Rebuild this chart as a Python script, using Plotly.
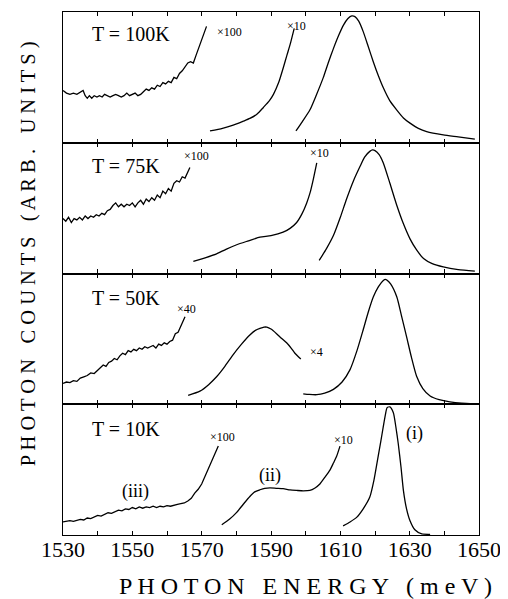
import plotly.graph_objects as go
from plotly.subplots import make_subplots

FONT = "Liberation Serif, Times New Roman, serif"

# ---------------- data (photon energy in meV, counts in arbitrary units per panel) ----------
temps = ["T = 100K", "T = 75K", "T = 50K", "T = 10K"]

# T = 100K
e100_a = [1530, 1531, 1532, 1533, 1534, 1535, 1535.8, 1536.4, 1537, 1537.6, 1538.3, 1539,
          1539.8, 1540.5, 1541.3, 1542, 1542.8, 1543.6, 1544.4, 1545.2, 1546, 1546.8, 1547.6, 1548.4,
          1549.2, 1550, 1550.8, 1551.6, 1552.4, 1553.2, 1554, 1554.8, 1555.6, 1556.4, 1557.2, 1558,
          1558.8, 1559.6, 1560.4, 1561.2, 1562, 1562.8, 1563.6, 1564.4, 1565.2, 1566, 1566.8, 1567.6,
          1568.4, 1569.2, 1570, 1570.7, 1571.4]
c100_a = [0.40, 0.38, 0.37, 0.38, 0.37, 0.39, 0.40, 0.36, 0.34, 0.36, 0.34, 0.36,
          0.35, 0.36, 0.35, 0.37, 0.36, 0.35, 0.36, 0.37, 0.36, 0.35, 0.36, 0.38,
          0.36, 0.37, 0.38, 0.36, 0.37, 0.39, 0.41, 0.40, 0.42, 0.41, 0.44, 0.43,
          0.46, 0.45, 0.47, 0.46, 0.50, 0.49, 0.53, 0.55, 0.58, 0.61, 0.62, 0.61,
          0.67, 0.73, 0.79, 0.84, 0.89]
e100_b = [1572.4, 1576, 1579.1, 1582, 1583.9, 1586, 1587.8, 1589.5, 1590.7, 1592.2, 1593.5, 1594.6, 1595.5, 1596.7]
c100_b = [0.09, 0.11, 0.135, 0.165, 0.186, 0.22, 0.27, 0.32, 0.37, 0.46, 0.57, 0.67, 0.75, 0.875]
e100_c = [1597.2, 1599, 1601.2, 1603, 1605.1, 1606.5, 1608, 1609.5, 1610.9, 1612.2, 1613.3, 1614.2,
          1615.3, 1616.6, 1618, 1619.5, 1621, 1622.4, 1624.3, 1626.3, 1628.2, 1630.1, 1632.5, 1634.9,
          1639.7, 1644, 1648.8]
c100_c = [0.09, 0.16, 0.25, 0.36, 0.50, 0.61, 0.72, 0.82, 0.90, 0.95, 0.97, 0.965,
          0.93, 0.85, 0.74, 0.62, 0.51, 0.42, 0.32, 0.25, 0.19, 0.15, 0.11, 0.085,
          0.06, 0.045, 0.028]

# T = 75K
e75_a = [1530, 1530.8, 1531.6, 1532.4, 1533.2, 1534, 1534.8, 1535.6, 1536.4, 1537.2, 1538, 1538.8,
         1539.6, 1540.4, 1541.2, 1542, 1542.8, 1543.6, 1544.4, 1545.2, 1546, 1546.8, 1547.6, 1548.4,
         1549.2, 1550, 1550.8, 1551.6, 1552.4, 1553.2, 1554, 1554.8, 1555.6, 1556.4, 1557.2, 1558,
         1558.8, 1559.6, 1560.4, 1561.2, 1562, 1562.8, 1563.6, 1564.4, 1565.2, 1566, 1566.6]
c75_a = [0.42, 0.40, 0.43, 0.39, 0.42, 0.41, 0.43, 0.41, 0.44, 0.42, 0.44, 0.43,
         0.45, 0.44, 0.46, 0.45, 0.48, 0.49, 0.52, 0.54, 0.51, 0.53, 0.51, 0.53,
         0.52, 0.54, 0.51, 0.54, 0.56, 0.53, 0.57, 0.55, 0.58, 0.56, 0.60, 0.58,
         0.63, 0.61, 0.65, 0.63, 0.69, 0.71, 0.70, 0.74, 0.73, 0.78, 0.81]
e75_b = [1567.6, 1571, 1574.3, 1577, 1580.1, 1583.5, 1586.8, 1590, 1593.5, 1595.5, 1597.4, 1599,
         1600.3, 1601.3, 1602.2, 1603.2]
c75_b = [0.093, 0.12, 0.15, 0.185, 0.22, 0.25, 0.278, 0.29, 0.316, 0.345, 0.39, 0.46,
         0.54, 0.62, 0.72, 0.846]
e75_c = [1603.9, 1606, 1608, 1610, 1611.8, 1613.8, 1615.7, 1617, 1618.5, 1619.3, 1620, 1621.2,
         1622.4, 1624.3, 1626.3, 1628.2, 1630.1, 1632, 1634, 1636.5, 1639.7, 1644, 1648.8]
c75_c = [0.10, 0.19, 0.29, 0.43, 0.57, 0.71, 0.82, 0.89, 0.934, 0.945, 0.94, 0.91,
         0.846, 0.69, 0.52, 0.38, 0.265, 0.18, 0.114, 0.075, 0.05, 0.03, 0.018]

# T = 50K
e50_a = [1530, 1531, 1532, 1533, 1534, 1535, 1536, 1537, 1538, 1539, 1540, 1540.8,
         1541.6, 1542.4, 1543.2, 1544, 1544.8, 1545.6, 1546.4, 1547.2, 1548, 1548.8, 1549.6, 1550.4,
         1551.2, 1552, 1552.8, 1553.6, 1554.4, 1555.2, 1556, 1556.8, 1557.6, 1558.4, 1559.2, 1560,
         1560.8, 1561.6, 1562.4, 1563.2, 1564, 1564.6, 1565.2]
c50_a = [0.16, 0.17, 0.165, 0.18, 0.175, 0.20, 0.21, 0.22, 0.24, 0.235, 0.26, 0.28,
         0.30, 0.29, 0.32, 0.33, 0.35, 0.34, 0.37, 0.39, 0.38, 0.41, 0.40, 0.42,
         0.41, 0.43, 0.42, 0.44, 0.43, 0.44, 0.45, 0.43, 0.46, 0.45, 0.47, 0.46,
         0.48, 0.49, 0.54, 0.55, 0.60, 0.64, 0.67]
e50_b = [1566.1, 1569.5, 1572, 1574.3, 1576.7, 1579.1, 1581.5, 1583.9, 1585.5, 1586.8, 1588, 1588.8,
         1590, 1591.6, 1593, 1594.5, 1595.8, 1596.9, 1598.6]
c50_b = [0.068, 0.10, 0.15, 0.21, 0.29, 0.38, 0.46, 0.53, 0.565, 0.58, 0.59, 0.59,
         0.575, 0.54, 0.505, 0.47, 0.43, 0.39, 0.346]
e50_c = [1599.3, 1601, 1603.2, 1605.5, 1608, 1610.5, 1612.8, 1614.8, 1616.6, 1618, 1619.5, 1621,
         1622.4, 1623, 1623.4, 1624.5, 1626.3, 1627.7, 1629.1, 1630.5, 1632, 1633.8, 1635.9, 1638.5,
         1641.6, 1645, 1648.8]
c50_c = [0.08, 0.075, 0.073, 0.085, 0.114, 0.17, 0.265, 0.41, 0.57, 0.70, 0.82, 0.90,
         0.947, 0.955, 0.95, 0.92, 0.82, 0.67, 0.517, 0.36, 0.214, 0.12, 0.063, 0.035,
         0.018, 0.008, 0.003]

# T = 10K
e10_a = [1530, 1531, 1532, 1533, 1534, 1535, 1536, 1537, 1538, 1539, 1540, 1541,
         1542, 1543, 1544, 1545, 1546, 1547, 1548, 1549, 1550, 1551, 1552, 1553,
         1554, 1555, 1556, 1557, 1558, 1559, 1560, 1561, 1562, 1563, 1564, 1565,
         1566, 1567, 1568, 1569, 1570, 1571, 1572, 1573, 1574, 1574.8]
c10_a = [0.10, 0.105, 0.11, 0.105, 0.11, 0.12, 0.115, 0.13, 0.125, 0.14, 0.15, 0.145,
         0.16, 0.17, 0.165, 0.18, 0.19, 0.185, 0.20, 0.195, 0.21, 0.20, 0.215, 0.205,
         0.215, 0.21, 0.22, 0.21, 0.22, 0.215, 0.225, 0.22, 0.23, 0.235, 0.24, 0.245,
         0.26, 0.28, 0.32, 0.35, 0.39, 0.45, 0.50, 0.57, 0.63, 0.68]
e10_b = [1575.8, 1578, 1580.1, 1582, 1583.9, 1585.3, 1586.8, 1588.2, 1589.7, 1591.5, 1593.5, 1595.5,
         1597.4, 1599.3, 1601.2, 1602.7, 1604.1, 1605.5, 1607, 1608, 1608.9, 1609.9]
c10_b = [0.078, 0.12, 0.173, 0.235, 0.295, 0.33, 0.346, 0.357, 0.36, 0.357, 0.354, 0.345,
         0.341, 0.338, 0.341, 0.36, 0.39, 0.44, 0.496, 0.55, 0.6, 0.68]
e10_c = [1610.8, 1612.8, 1614.7, 1616.6, 1618.5, 1619.7, 1620.9, 1621.7, 1622.4, 1623, 1623.5, 1624.3,
         1625.3, 1626, 1626.7, 1627.5, 1628.2, 1629.1, 1630.1, 1631.5, 1633.5, 1635.9]
c10_c = [0.07, 0.10, 0.135, 0.20, 0.29, 0.42, 0.60, 0.72, 0.83, 0.92, 0.974, 0.98,
         0.935, 0.83, 0.70, 0.52, 0.34, 0.20, 0.109, 0.04, 0.008, 0.005]

# scale-factor labels: (text, energy, counts)
scales100 = [("\u00d7100", 1573.9, 0.85), ("\u00d710", 1594.0, 0.895)]
scales75 = [("\u00d7100", 1564.2, 0.896), ("\u00d710", 1600.7, 0.92)]
scales50 = [("\u00d740", 1562.3, 0.73), ("\u00d74", 1600.7, 0.40)]
scales10 = [("\u00d7100", 1571.8, 0.75), ("\u00d710", 1607.5, 0.73)]
peak_labels10 = [("(iii)", 1550.8, 0.33), ("(ii)", 1589.7, 0.457), ("(i)", 1631.5, 0.78)]

x_ticks = [1530, 1550, 1570, 1590, 1610, 1630, 1650]
x_title = "P H O T O N   E N E R G Y   ( m e V )"
y_title = "P H O T O N   C O U N T S   ( A R B .   U N I T S )"

panels = [
    (temps[0], [(e100_a, c100_a, "linear"), (e100_b, c100_b, "spline"), (e100_c, c100_c, "spline")], scales100, 0.83),
    (temps[1], [(e75_a, c75_a, "linear"), (e75_b, c75_b, "spline"), (e75_c, c75_c, "spline")], scales75, 0.82),
    (temps[2], [(e50_a, c50_a, "linear"), (e50_b, c50_b, "spline"), (e50_c, c50_c, "spline")], scales50, 0.81),
    (temps[3], [(e10_a, c10_a, "linear"), (e10_b, c10_b, "spline"), (e10_c, c10_c, "spline")], scales10, 0.81),
]

fig = make_subplots(rows=4, cols=1, shared_xaxes=True, vertical_spacing=0)

annotations = []
for i, (tlabel, segs, scales, ty) in enumerate(panels):
    row = i + 1
    for xs, ys, shape in segs:
        fig.add_trace(go.Scatter(x=xs, y=ys, mode="lines",
                                 line=dict(color="black", width=1.3, shape=shape, smoothing=0.6),
                                 showlegend=False, hoverinfo="skip"), row=row, col=1)
    xr = "x" if row == 1 else f"x{row}"
    yr = "y" if row == 1 else f"y{row}"
    annotations.append(dict(text=tlabel, x=1537.8, y=ty, xref=xr, yref=yr, xanchor="left",
                            yanchor="middle", showarrow=False,
                            font=dict(family=FONT, size=20, color="black")))
    for txt, ex, cy in scales:
        annotations.append(dict(text=txt, x=ex, y=cy, xref=xr, yref=yr, xanchor="left",
                                yanchor="middle", showarrow=False,
                                font=dict(family=FONT, size=12, color="black")))
    if row == 4:
        for txt, ex, cy in peak_labels10:
            annotations.append(dict(text=txt, x=ex, y=cy, xref=xr, yref=yr, xanchor="center",
                                    yanchor="middle", showarrow=False,
                                    font=dict(family=FONT, size=18, color="black")))

annotations.append(dict(text=y_title, x=-0.084, y=0.537, xref="paper",
                        yref="paper", textangle=-90, showarrow=False, xanchor="center",
                        yanchor="middle", font=dict(family=FONT, size=20.5, color="black")))
annotations.append(dict(text=x_title, x=0.582, y=-0.0975, xref="paper",
                        yref="paper", showarrow=False, xanchor="center", yanchor="middle",
                        font=dict(family=FONT, size=24, color="black")))

for row in range(1, 5):
    fig.update_xaxes(range=[1530, 1650], showline=True, mirror="ticks", linecolor="black",
                     linewidth=1.3, ticks="inside", ticklen=4, tickwidth=1, tickcolor="black",
                     tickvals=x_ticks, ticktext=[str(v) for v in x_ticks],
                     minor=dict(ticks="inside", dtick=10, tick0=1530, ticklen=4, tickwidth=1,
                                tickcolor="black"),
                     showgrid=False, zeroline=False, automargin=False,
                     showticklabels=(row == 4), ticklabelstandoff=-6,
                     ticklabeloverflow="allow",
                     tickfont=dict(family=FONT, size=22, color="black"),
                     row=row, col=1)
    fig.update_yaxes(range=[0, 1], showline=True, mirror=True, linecolor="black", linewidth=1.3,
                     ticks="", showticklabels=False, showgrid=False, zeroline=False,
                     automargin=False, row=row, col=1)

# the page body adds an 8 px offset, so the figure is 8 px smaller than the window
fig.update_layout(template="none", width=500, height=591,
                  margin=dict(l=55, r=29, t=4, b=64, autoexpand=False),
                  paper_bgcolor="white", plot_bgcolor="white", annotations=annotations,
                  font=dict(family=FONT, color="black"))

fig.write_html("out.html")
